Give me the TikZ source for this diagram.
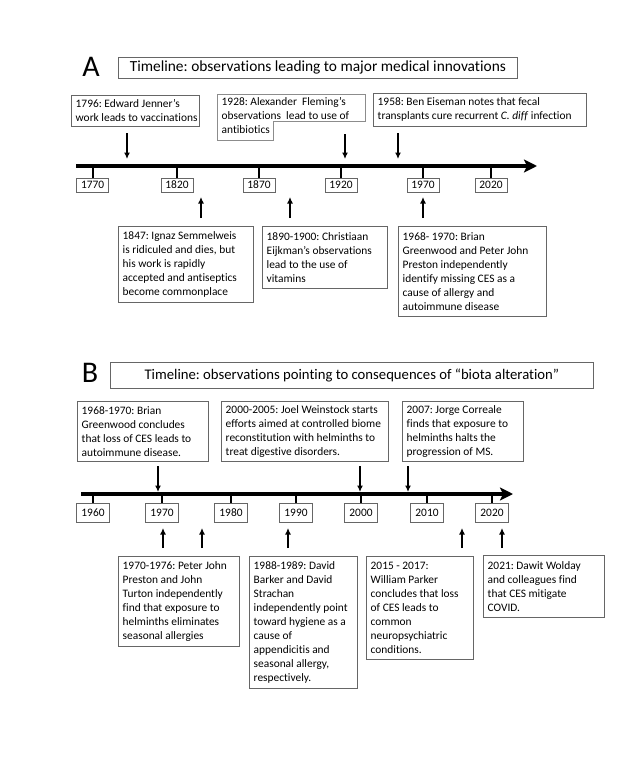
\documentclass[tikz,border=0pt]{standalone}
\usepackage{fontspec}
\setmainfont{Carlito}[Ligatures=NoCommon]
\usetikzlibrary{arrows.meta}
\frenchspacing
% #1 name, #2 x, #3 y (top-left), #4 width, #5 height, #6 text
\newcommand{\tlbox}[6]{%
  \node[frame, minimum width=#4pt, minimum height=#5pt] (#1) at (#2,#3) {};
  \node[boxtext] (#1-t) at ([xshift=4.5pt]#1.west) {#6};
}
\begin{document}
\begin{tikzpicture}[x=1pt,y=-1pt,
  txt/.style={font=\fontsize{11.4}{14}\selectfont},
  frame/.style={draw=black!60, line width=0.8pt, anchor=north west, inner sep=0pt},
  boxtext/.style={txt, align=left, anchor=west, inner sep=0pt},
  titlebox/.style={draw=black!60, line width=0.8pt, anchor=north west, inner sep=0pt},
  panel/.style={font=\fontsize{30}{30}\selectfont, inner sep=0pt},
  yrA/.style={txt, draw=black!60, line width=0.8pt, minimum width=32pt, minimum height=14pt, inner sep=0pt},
  yrB/.style={txt, draw=black!60, line width=0.8pt, minimum width=33pt, minimum height=19pt, inner sep=0pt},
  axis/.style={line width=3.4pt, -{Stealth[length=13pt,width=13pt,inset=3pt]}},
  tickline/.style={line width=2pt},
  arr/.style={line width=1.5pt, -{Latex[length=6.5pt,width=6pt]}}
]
\useasboundingbox (0,0) rectangle (640,768);

% ---------------- Panel A ----------------
\node[panel] (labA) at (91,66.5) {A};
\node[titlebox, minimum width=399pt, minimum height=21pt, font=\fontsize{15.4}{18}\selectfont] (titleA) at (118,57)
  {Timeline: observations leading to major medical innovations};

\coordinate (axA0) at (76,166);
\coordinate (axA1) at (537,166);
\draw[axis] (axA0) -- (axA1);

\foreach \yr/\xx in {1770/92.7, 1820/177, 1870/259, 1920/341, 1970/423, 2020/491}{
  \node[yrA] (yA\yr) at (\xx,185) {\yr};
  \coordinate (tA\yr) at (\xx,166);
  \draw[tickline] (tA\yr) -- (yA\yr.north);
}

% top boxes A
\tlbox{jenner}{71}{95}{128}{31}{1796: Edward Jenner’s\\work leads to vaccinations}
\node[txt, align=left, anchor=north west, inner sep=0pt] (fleming) at (221.5,97)
  {1928: Alexander\ \ Fleming’s\\observations\ \ lead to use of\\antibiotics};
\draw[draw=black!45, line width=0.8pt] (217,94) -- (365,94) -- (365,121) -- (273,121) -- (273,140) -- (217,140) -- cycle;
\tlbox{eiseman}{373}{93}{213}{33}{1958: Ben Eiseman notes that fecal\\transplants cure recurrent \textit{C. diff} infection}

\coordinate (dJ0) at (127,133); \coordinate (dJ1) at (127,159);
\coordinate (dF0) at (345,134); \coordinate (dF1) at (345,159);
\coordinate (dE0) at (398,133); \coordinate (dE1) at (398,159);
\draw[arr] (dJ0) -- (dJ1);
\draw[arr] (dF0) -- (dF1);
\draw[arr] (dE0) -- (dE1);

% bottom boxes A
\tlbox{semmel}{118}{226}{135}{76}{1847: Ignaz Semmelweis\\is ridiculed and dies, but\\his work is rapidly\\accepted and antiseptics\\become commonplace}
\tlbox{eijkman}{262}{226}{125}{62}{1890-1900: Christiaan\\Eijkman’s observations\\lead to the use of\\vitamins}
\tlbox{greenA}{398}{226}{148}{90}{1968- 1970: Brian\\Greenwood and Peter John\\Preston independently\\identify missing CES as a\\cause of allergy and\\autoimmune disease}

\coordinate (uS0) at (201,218); \coordinate (uS1) at (201,197);
\coordinate (uK0) at (290,218); \coordinate (uK1) at (290,197);
\coordinate (uG0) at (423,218); \coordinate (uG1) at (423,197);
\draw[arr] (uS0) -- (uS1);
\draw[arr] (uK0) -- (uK1);
\draw[arr] (uG0) -- (uG1);

% ---------------- Panel B ----------------
\node[panel] (labB) at (90,373) {B};
\node[titlebox, minimum width=483pt, minimum height=26pt, font=\fontsize{14.7}{17}\selectfont] (titleB) at (110,362)
  {Timeline: observations pointing to consequences of “biota alteration”};

\coordinate (axB0) at (81,494);
\coordinate (axB1) at (513,494);
\draw[axis] (axB0) -- (axB1);

\foreach \yr/\xx in {1960/93, 1970/162, 1980/231, 1990/296, 2000/361, 2010/427, 2020/492}{
  \node[yrB] (yB\yr) at (\xx,512.5) {\yr};
  \coordinate (tB\yr) at (\xx,494);
  \draw[tickline] (tB\yr) -- (yB\yr.north);
}

% top boxes B
\tlbox{greenB}{77}{401}{131}{60}{1968-1970: Brian\\Greenwood concludes\\that loss of CES leads to\\autoimmune disease.}
\tlbox{weinstock}{221}{401}{167}{60}{2000-2005: Joel Weinstock starts\\efforts aimed at controlled biome\\reconstitution with helminths to\\treat digestive disorders.}
\tlbox{correale}{402}{401}{121}{60}{2007: Jorge Correale\\finds that exposure to\\helminths halts the\\progression of MS.}

\coordinate (dG0) at (158,466); \coordinate (dG1) at (158,492);
\coordinate (dW0) at (360,466); \coordinate (dW1) at (360,492);
\coordinate (dC0) at (408,466); \coordinate (dC1) at (408,492);
\draw[arr] (dG0) -- (dG1);
\draw[arr] (dW0) -- (dW1);
\draw[arr] (dC0) -- (dC1);

% bottom boxes B
\tlbox{preston}{118}{556}{121}{90}{1970-1976: Peter John\\Preston and John\\Turton independently\\find that exposure to\\helminths eliminates\\seasonal allergies}
\tlbox{barker}{249}{556}{108}{132}{1988-1989: David\\Barker and David\\Strachan\\independently point\\toward hygiene as a\\cause of\\appendicitis and\\seasonal allergy,\\respectively.}
\tlbox{parker}{366}{556}{107}{103}{2015 - 2017:\\William Parker\\concludes that loss\\of CES leads to\\common\\neuropsychiatric\\conditions.}
\tlbox{wolday}{483}{555}{121}{62}{2021: Dawit Wolday\\and colleagues find\\that CES mitigate\\COVID.}

\coordinate (uP0) at (163,548); \coordinate (uP1) at (163,528);
\coordinate (uT0) at (202,548); \coordinate (uT1) at (202,528);
\coordinate (uB0) at (288,548); \coordinate (uB1) at (288,528);
\coordinate (uR0) at (462,548); \coordinate (uR1) at (462,528);
\coordinate (uW0) at (502,548); \coordinate (uW1) at (502,528);
\draw[arr] (uP0) -- (uP1);
\draw[arr] (uT0) -- (uT1);
\draw[arr] (uB0) -- (uB1);
\draw[arr] (uR0) -- (uR1);
\draw[arr] (uW0) -- (uW1);
\end{tikzpicture}
\end{document}
